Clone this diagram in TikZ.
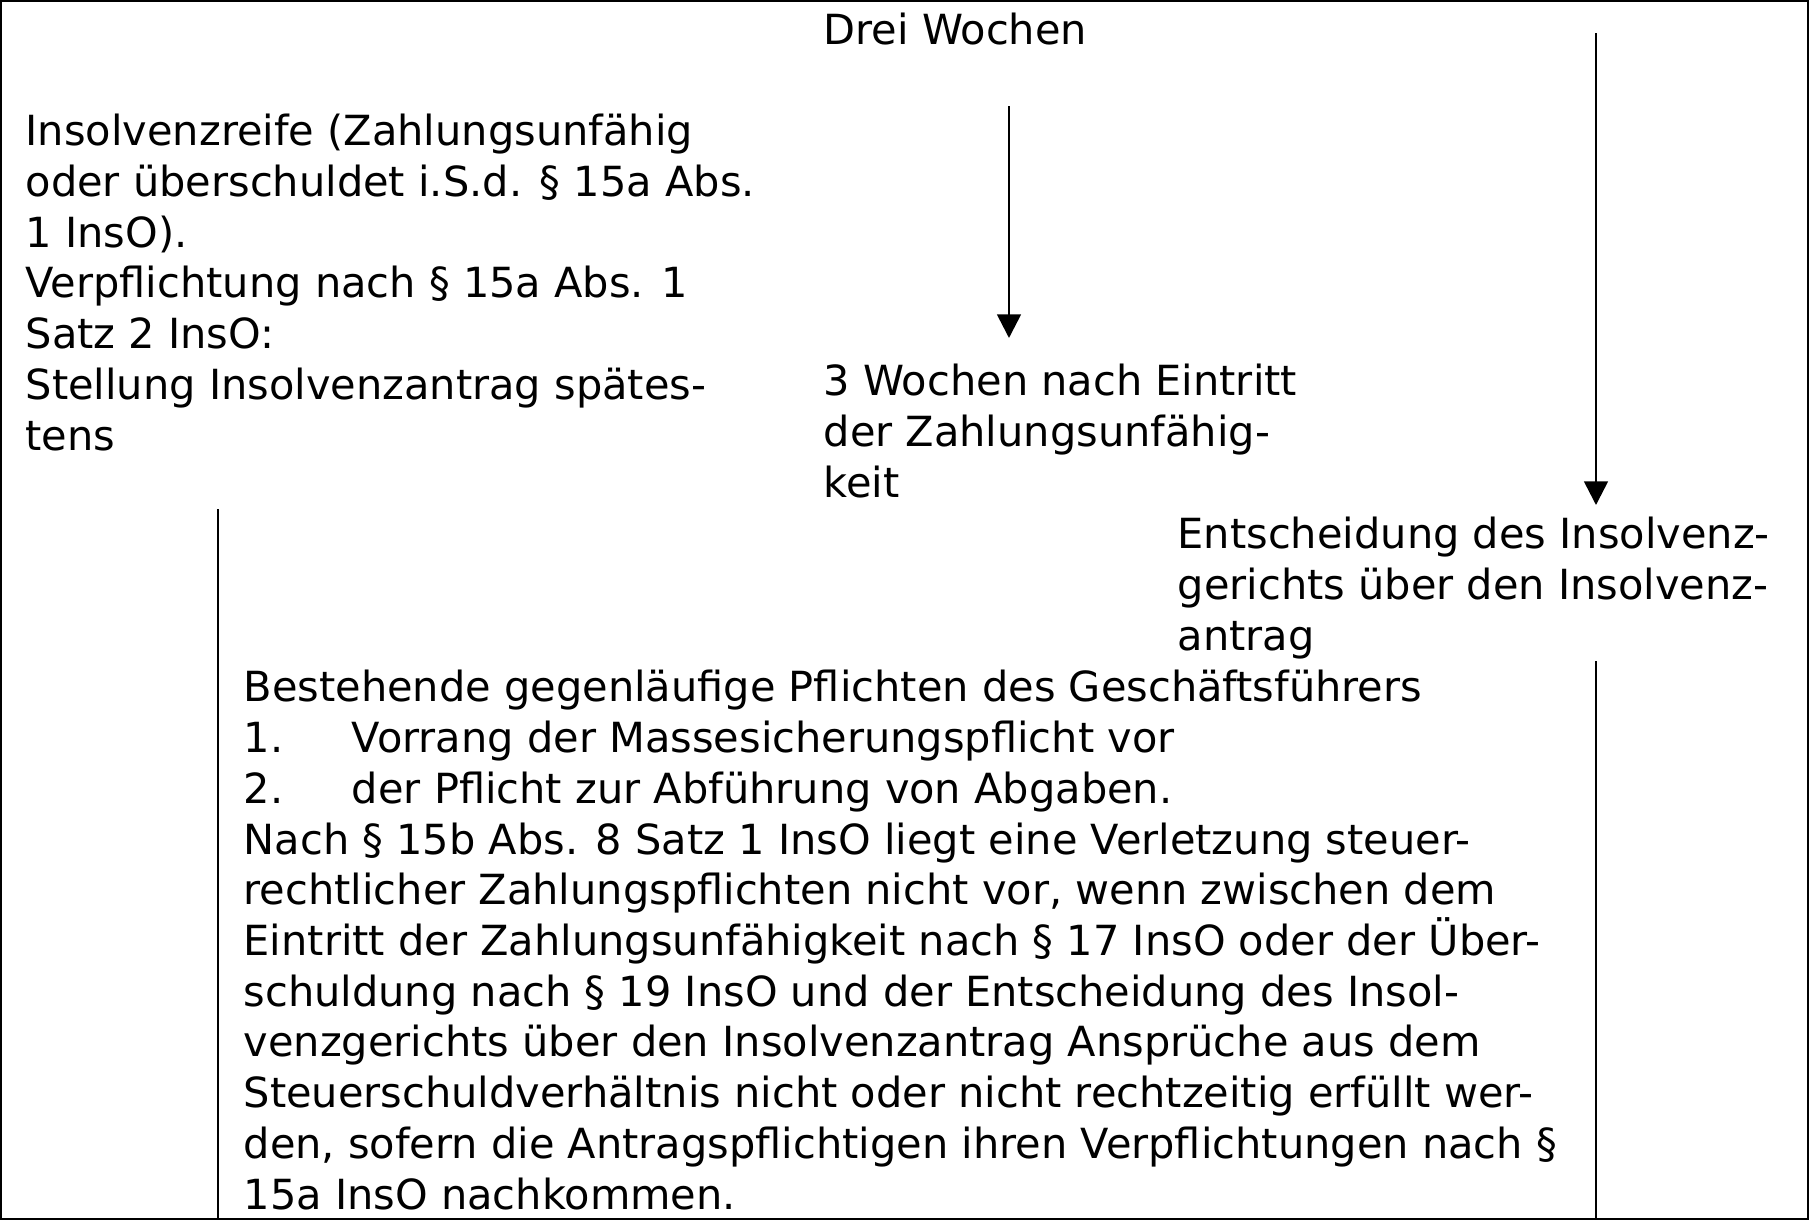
\documentclass[tikz,border=0pt]{standalone}
\usepackage{fontspec}
\setmainfont{DejaVu Sans}
\usetikzlibrary{arrows.meta, positioning}

\newcommand{\listnr}[1]{\makebox[31.3pt][l]{#1}}

\begin{document}
\begin{tikzpicture}[x=0.2891pt, y=-0.2891pt, > = {Triangle[width=6.8pt, length=6.8pt]},
	txt/.style = {anchor=base west, inner sep=0pt, align=left, font=\fontsize{12}{14.66}\selectfont},
	pfeil/.style = {->, line width=0.75pt},
	rand/.style = {line width=0.45pt}]

\useasboundingbox (0,0) rectangle (1809,1220);
\draw[line width=0.6pt] (1,1) rectangle (1808,1219);

% base = Grundlinie der letzten Zeile
\node[txt]	(drei)		at (823,44)		{Drei Wochen};
\node[txt]	(reife)		at (25,450)		{Insolvenzreife (Zahlungsunfähig\\oder überschuldet i.S.d. § 15a Abs.\\1 InsO).\\Verpflichtung nach § 15a Abs. 1\\Satz 2 InsO:\\Stellung Insolvenzantrag spätes-\\tens};
\node[txt]	(frist)		at (823,497)	{3 Wochen nach Eintritt\\der Zahlungsunfähig-\\keit};
\node[txt]	(entsch)	at (1177,650)	{Entscheidung des Insolvenz-\\gerichts über den Insolvenz-\\antrag};
\node[txt]	(pflichten)	at (243,1209)	{Bestehende gegenläufige Pflichten des Geschäftsführers\\
	\listnr{1.}Vorrang der Massesicherungspflicht vor\\
	\listnr{2.}der Pflicht zur Abführung von Abgaben.\\
	Nach § 15b Abs. 8 Satz 1 InsO liegt eine Verletzung steuer-\\
	rechtlicher Zahlungspflichten nicht vor, wenn zwischen dem\\
	Eintritt der Zahlungsunfähigkeit nach § 17 InsO oder der Über-\\
	schuldung nach § 19 InsO und der Entscheidung des Insol-\\
	venzgerichts über den Insolvenzantrag Ansprüche aus dem\\
	Steuerschuldverhältnis nicht oder nicht rechtzeitig erfüllt wer-\\
	den, sofern die Antragspflichtigen ihren Verpflichtungen nach §\\
	15a InsO nachkommen.};

% Pfeile
\coordinate (p1a) at (1009,106);
\coordinate (p1b) at (1009,338);
\coordinate (p2a) at (1596,33);
\coordinate (p2b) at (1596,505);
\draw[pfeil] (p1a) -- (p1b);
\draw[pfeil] (p2a) -- (p2b);

% senkrechte Linien
\coordinate (l1a) at (218,509);
\coordinate (l1b) at (218,1220);
\coordinate (l2a) at (1596,661);
\coordinate (l2b) at (1596,1220);
\draw[rand] (l1a) -- (l1b);
\draw[rand] (l2a) -- (l2b);
\end{tikzpicture}
\end{document}
